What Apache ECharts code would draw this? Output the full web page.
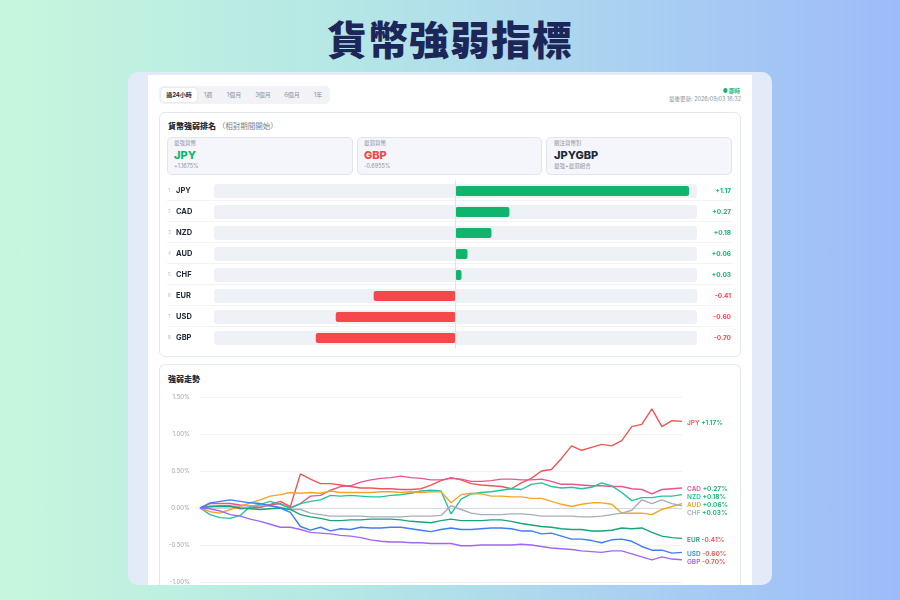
<!DOCTYPE html>
<html><head><meta charset="utf-8">
<script src="https://cdn.jsdelivr.net/npm/echarts@6/dist/echarts.min.js"></script>
<style>
html,body{margin:0;padding:0;width:900px;height:600px;overflow:hidden;}
body{position:relative;background:linear-gradient(90deg,#c6f7dd 0%,#b4e6e6 40%,#a9cff2 72%,#9dbbf9 100%);font-family:Inter,"Noto Sans CJK TC",sans-serif;}
.a{position:absolute;white-space:nowrap;}
#title{left:0;top:13px;width:900px;text-align:center;font-family:"Noto Sans CJK TC";font-size:40px;font-weight:900;line-height:50px;color:#1d2658;letter-spacing:1px;}
#frame{left:128px;top:72px;width:644px;height:513px;background:#e3ebf8;border-radius:10px;}
#page{left:148px;top:75px;width:604px;height:510px;background:#fff;}
#tabs{left:159px;top:86px;width:171px;height:18px;background:#f1f3f7;border-radius:5px;}
#tabsel{left:161px;top:88px;width:36px;height:14px;background:#fff;border-radius:4px;box-shadow:0 0 2px rgba(0,0,0,0.12);}
.tab{top:91px;font-size:6px;line-height:8px;color:#8a93a3;transform:translateX(-50%);}
.card{background:#fff;border:1px solid #e4e8ef;border-radius:6px;box-sizing:border-box;}
.box{background:#f4f6fb;border:1px solid #dfe5ef;border-radius:5px;box-sizing:border-box;height:38px;top:137px;}
.lbl{font-size:5.5px;color:#8a93a3;line-height:7px;}
.big{font-size:11px;font-weight:800;line-height:13px;}
.sep{left:167px;width:566px;height:1px;background:#f1f3f6;}
#chart{position:absolute;left:0;top:0;width:900px;height:600px;z-index:5;}
</style></head>
<body>
<div class="a" id="title">貨幣強弱指標</div>
<div class="a" id="frame"></div>
<div class="a" id="page"></div>
<div class="a" id="tabs"></div>
<div class="a" id="tabsel"></div>
<div class="a tab" style="left:179px;color:#1f2937;font-weight:700;">過24小時</div>
<div class="a tab" style="left:208px;">1週</div>
<div class="a tab" style="left:234px;">1個月</div>
<div class="a tab" style="left:263px;">3個月</div>
<div class="a tab" style="left:292px;">6個月</div>
<div class="a tab" style="left:318px;">1年</div>
<div class="a" style="right:160px;top:87px;font-size:5.5px;line-height:8px;color:#10b46c;font-weight:700;">● 即時</div>
<div class="a" style="right:159px;top:95px;font-size:5.5px;line-height:8px;color:#8a93a3;">最後更新: 2026/09/03 16:32</div>

<div class="a card" style="left:159px;top:112px;width:582px;height:245px;"></div>
<div class="a" style="left:168px;top:121px;font-size:8px;line-height:10px;font-weight:800;color:#1f2937;">貨幣強弱排名 <span style="font-weight:400;color:#7b8494;font-size:7.5px;">（相對期間開始）</span></div>

<div class="a box" style="left:167px;width:186px;"></div>
<div class="a lbl" style="left:174px;top:140px;">最強貨幣</div>
<div class="a big" style="left:174px;top:149px;color:#10b46c;">JPY</div>
<div class="a lbl" style="left:174px;top:163px;">+1.1675%</div>

<div class="a box" style="left:357px;width:185px;"></div>
<div class="a lbl" style="left:364px;top:140px;">最弱貨幣</div>
<div class="a big" style="left:364px;top:149px;color:#f5484a;">GBP</div>
<div class="a lbl" style="left:364px;top:163px;">-0.6955%</div>

<div class="a box" style="left:546px;width:186px;"></div>
<div class="a lbl" style="left:554px;top:140px;">關注貨幣對</div>
<div class="a big" style="left:554px;top:149px;color:#1f2937;">JPYGBP</div>
<div class="a lbl" style="left:554px;top:163px;">最強+最弱組合</div>

<div class="a sep" style="top:200px;"></div>
<div class="a sep" style="top:221px;"></div>
<div class="a sep" style="top:242px;"></div>
<div class="a sep" style="top:263px;"></div>
<div class="a sep" style="top:284px;"></div>
<div class="a sep" style="top:305px;"></div>
<div class="a sep" style="top:326px;"></div>

<div class="a card" style="left:159px;top:364px;width:582px;height:221px;border-bottom:none;border-radius:6px 6px 0 0;"></div>
<div class="a" style="left:168px;top:374px;font-size:8px;line-height:10px;font-weight:800;color:#1f2937;">強弱走勢</div>

<div id="chart"></div>
<script>
// ---- data ----
const currencies = ['JPY','CAD','NZD','AUD','CHF','EUR','USD','GBP'];
const changes = [1.17, 0.27, 0.18, 0.06, 0.03, -0.41, -0.60, -0.70];
const seriesColors = ['#f05656','#ea5490','#22c4a0','#f5a524','#a7aebb','#17a57c','#3d7ef5','#a067f5'];
const times = ['16:30','17:00','17:30','18:00','18:30','19:00','19:30','20:00','20:30','21:00','21:30','22:00','22:30','23:00','23:30','00:00','00:30','01:00','01:30','02:00','02:30','03:00','03:30','04:00','04:30','05:00','05:30','06:00','06:30','07:00','07:30','08:00','08:30','09:00','09:30','10:00','10:30','11:00','11:30','12:00','12:30','13:00','13:30','14:00','14:30','15:00','15:30','16:00','16:30'];
const jpy = [0,0.02,0.03,0.03,-0.01,0.0,0.01,0.05,0.09,0.02,0.46,0.39,0.33,0.33,0.31,0.29,0.27,0.27,0.26,0.26,0.25,0.25,0.26,0.31,0.37,0.41,0.38,0.33,0.31,0.30,0.29,0.26,0.34,0.40,0.50,0.52,0.67,0.84,0.78,0.82,0.86,0.84,0.91,1.10,1.13,1.34,1.10,1.18,1.17];
const cad = [0,0.06,0.06,0.06,0.04,0.03,0.01,0.04,0.06,0.0,0.06,0.16,0.17,0.24,0.29,0.30,0.35,0.38,0.40,0.41,0.43,0.41,0.40,0.38,0.38,0.40,0.39,0.36,0.36,0.37,0.39,0.39,0.38,0.38,0.39,0.36,0.32,0.32,0.31,0.30,0.30,0.29,0.29,0.26,0.25,0.19,0.25,0.26,0.27];
const nzd = [0,-0.09,-0.13,-0.14,-0.10,0.02,0.05,0.09,0.05,0.0,0.06,0.09,0.11,0.17,0.16,0.17,0.16,0.15,0.15,0.17,0.18,0.20,0.23,0.24,0.23,-0.08,0.12,0.19,0.21,0.22,0.24,0.26,0.25,0.32,0.34,0.29,0.27,0.28,0.26,0.28,0.34,0.30,0.21,0.10,0.14,0.14,0.16,0.16,0.18];
const aud = [0,-0.05,-0.07,-0.02,0.02,0.07,0.11,0.16,0.18,0.21,0.20,0.21,0.20,0.23,0.21,0.21,0.21,0.21,0.22,0.22,0.21,0.22,0.21,0.22,0.22,0.07,0.18,0.20,0.19,0.16,0.16,0.15,0.15,0.13,0.13,0.09,0.05,0.02,0.05,0.07,0.07,0.05,-0.07,-0.07,-0.07,-0.09,-0.02,0.02,0.06];
const chf = [0,0.02,0.02,0.02,0.03,0.03,0.03,0.03,0.01,-0.02,-0.02,-0.07,-0.09,-0.11,-0.11,-0.11,-0.11,-0.12,-0.12,-0.12,-0.12,-0.11,-0.11,-0.11,-0.10,0.03,-0.02,-0.07,-0.09,-0.09,-0.09,-0.08,-0.08,-0.09,-0.11,-0.11,-0.11,-0.11,-0.12,-0.12,-0.11,-0.09,-0.07,-0.03,0.11,0.06,0.11,0.06,0.03];
const eur = [0,0.02,0.02,0.02,0.0,-0.01,-0.02,-0.01,0.0,-0.02,-0.09,-0.12,-0.14,-0.17,-0.17,-0.16,-0.16,-0.15,-0.15,-0.15,-0.16,-0.18,-0.19,-0.20,-0.17,-0.15,-0.17,-0.17,-0.17,-0.16,-0.16,-0.18,-0.21,-0.23,-0.25,-0.26,-0.28,-0.29,-0.29,-0.31,-0.31,-0.30,-0.27,-0.28,-0.27,-0.33,-0.38,-0.40,-0.41];
const usd = [0,0.07,0.09,0.11,0.09,0.07,0.06,0.03,0.0,-0.06,-0.25,-0.30,-0.26,-0.31,-0.28,-0.29,-0.26,-0.27,-0.27,-0.26,-0.26,-0.28,-0.30,-0.32,-0.29,-0.27,-0.29,-0.29,-0.28,-0.27,-0.27,-0.28,-0.31,-0.31,-0.35,-0.34,-0.38,-0.42,-0.42,-0.44,-0.47,-0.43,-0.42,-0.45,-0.52,-0.57,-0.57,-0.61,-0.60];
const gbp = [0,-0.01,-0.04,-0.09,-0.11,-0.15,-0.18,-0.22,-0.26,-0.26,-0.29,-0.33,-0.34,-0.35,-0.37,-0.38,-0.40,-0.43,-0.45,-0.46,-0.46,-0.47,-0.47,-0.48,-0.48,-0.48,-0.51,-0.51,-0.50,-0.50,-0.50,-0.50,-0.49,-0.50,-0.52,-0.54,-0.55,-0.56,-0.58,-0.59,-0.60,-0.58,-0.58,-0.62,-0.66,-0.70,-0.66,-0.69,-0.70];
const trendData = [jpy, cad, nzd, aud, chf, eur, usd, gbp];
const yTicks = [-1.0, -0.5, 0.0, 0.5, 1.0, 1.5];

// ---- chart ----
const GREEN = '#10b46c', RED = '#f5484a';
const fmt = v => (v >= 0 ? '+' : '') + v.toFixed(2);
const barRange = 1.21;
const chart = echarts.init(document.getElementById('chart'), null, {width:900, height:600});
const FONT = 'Inter, "Noto Sans CJK TC", sans-serif';

const lineSeries = currencies.map((c, i) => ({
  name: c, type: 'line', xAxisIndex: 1, yAxisIndex: 2,
  data: trendData[i], showSymbol: false, smooth: false,
  lineStyle: {width: 1.4, color: seriesColors[i]}, itemStyle: {color: seriesColors[i]},
  endLabel: {
    show: true, distance: 5, offset: [0, 1.5], fontSize: 6.5, lineHeight: 8, padding: 0, fontFamily: FONT,
    formatter: () => '{n|' + c + ' }{v|' + fmt(changes[i]) + '%}',
    rich: {
      n: {color: seriesColors[i], fontSize: 6.5, lineHeight: 8, fontWeight: 600, fontFamily: FONT},
      v: {color: changes[i] >= 0 ? GREEN : RED, fontSize: 6.5, lineHeight: 8, fontWeight: 600, fontFamily: FONT}
    }
  },
  labelLayout: {moveOverlap: 'shiftY'},
  z: 3
}));

chart.setOption({
  animation: false,
  textStyle: {fontFamily: FONT},
  grid: [
    {left: 214, right: 203, top: 180.5, height: 168},
    {left: 200, right: 218, top: 397, bottom: 18}
  ],
  xAxis: [
    {gridIndex: 0, type: 'value', min: -barRange, max: barRange, show: false},
    {gridIndex: 1, type: 'category', data: times, boundaryGap: false,
     axisLine: {onZero: true, lineStyle: {color: '#d6d9de', width: 1}},
     axisTick: {show: false}, axisLabel: {show: false}}
  ],
  yAxis: [
    {gridIndex: 0, type: 'category', data: currencies, inverse: true,
     axisLine: {show: false}, axisTick: {show: false},
     axisLabel: {
       align: 'left', margin: 46,
       formatter: (v, idx) => '{r|' + (idx + 1) + '}{c|' + v + '}',
       rich: {
         r: {fontSize: 4.5, color: '#b3b9c3', width: 8, fontFamily: FONT},
         c: {fontSize: 7.5, fontWeight: 700, color: '#1f2937', fontFamily: FONT}
       }
     }},
    {gridIndex: 0, type: 'category', position: 'right', data: changes.map(fmt), inverse: true,
     axisLine: {show: false, onZero: false}, axisTick: {show: false},
     axisLabel: {align: 'right', margin: 34, fontSize: 6.5, fontWeight: 700,
       color: (v, idx) => changes[idx] >= 0 ? GREEN : RED}},
    {gridIndex: 1, type: 'value', min: yTicks[0], max: yTicks[yTicks.length - 1], interval: 0.5,
     axisLine: {show: false}, axisTick: {show: false},
     splitLine: {lineStyle: {color: '#f1f2f5', width: 1}},
     axisLabel: {formatter: v => v.toFixed(2) + '%', fontSize: 6, color: '#9aa2ae', margin: 10}}
  ],
  series: [
    {name: 'track', type: 'bar', xAxisIndex: 0, yAxisIndex: 1, data: changes.map(() => 0),
     barWidth: 14, showBackground: true,
     backgroundStyle: {color: '#eef1f6', borderRadius: 3}, silent: true, z: 1},
    {name: 'change', type: 'bar', xAxisIndex: 0, yAxisIndex: 0,
     data: changes.map(v => ({value: v, itemStyle: {color: v >= 0 ? GREEN : RED}})),
     barWidth: 10, itemStyle: {borderRadius: 2}, z: 2,
     markLine: {silent: true, symbol: 'none', label: {show: false},
       lineStyle: {color: '#dbe4f1', width: 1, type: 'solid'}, data: [{xAxis: 0}]}}
  ].concat(lineSeries)
});
</script>
</body></html>
